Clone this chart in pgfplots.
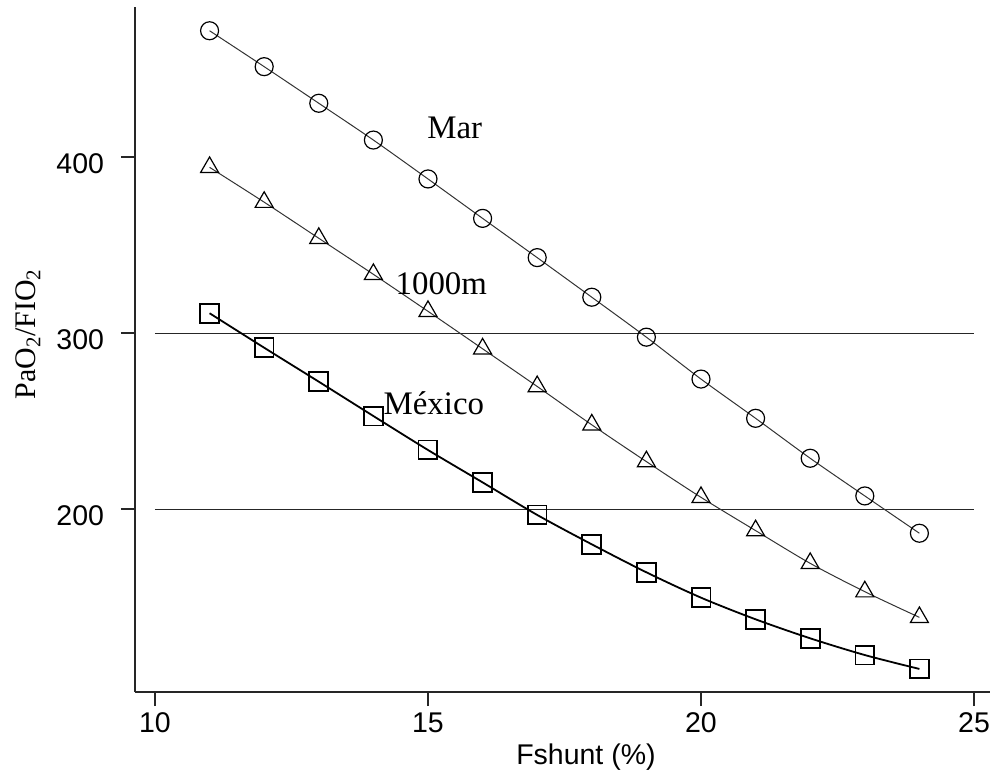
\documentclass[border=0pt]{standalone}
\usepackage{pgfplots}
\pgfplotsset{compat=1.18}
\usepackage{fontspec}
\setmainfont{Liberation Serif}
\newfontfamily\arial{Liberation Sans}
\begin{document}
\begin{tikzpicture}
\begin{axis}[
  scale only axis, width=427.5bp, height=342.5bp,
  xmin=9.634, xmax=25.293, ymin=96.2, ymax=485.4,
  axis x line=bottom, axis y line=left,
  axis line style={-, line width=0.9bp, black!85},
  xtick={10,15,20,25}, ytick={200,300,400},
  tick align=outside, major tick length=7bp,
  tick style={line width=0.9bp, black!85},
  /pgf/number format/assume math mode=true,
  ticklabel style={font=\arial\fontsize{14.3}{14.3}\selectfont},
  yticklabel style={xshift=-5bp, yshift=-3bp},
  xlabel={Fshunt (\%)},
  xlabel style={font=\arial\fontsize{14.3}{14.3}\selectfont, at={(axis description cs:0.5274,0)}, anchor=base, yshift=-36bp},
  ylabel={PaO\textsubscript{2}/FIO\textsubscript{2}},
  ylabel style={font=\fontsize{15}{15}\selectfont, at={(axis description cs:-0.1158,0.5226)}, anchor=base},
  clip=false,
]
% reference lines
\addplot[line width=0.8bp, black!85] coordinates {(10,300) (25,300)};
\addplot[line width=0.8bp, black!85] coordinates {(10,200) (25,200)};
% Mar
\addplot[smooth, line width=0.5bp, black!80, mark=o, mark size=4.5bp, mark options={line width=0.6bp, black}] coordinates {
(11,471.9) (12,451.5) (13,430.7) (14,409.8) (15,387.7) (16,365.3) (17,343.0) (18,320.5) (19,297.8) (20,274.0) (21,251.7) (22,229.0) (23,207.6) (24,186.4)};
% 1000m
\addplot[smooth, line width=0.5bp, black!80, mark=triangle, mark size=5.2bp, mark options={line width=0.6bp, black}] coordinates {
(11,394.3) (12,374.5) (13,354.0) (14,333.5) (15,312.5) (16,291.2) (17,269.8) (18,248.0) (19,227.1) (20,206.8) (21,187.9) (22,169.3) (23,153.2) (24,138.6)};
% Mexico
\addplot[smooth, line width=0.9bp, black, mark=square, mark size=4.7bp, mark options={line width=0.9bp, black}] coordinates {
(11,311.4) (12,291.8) (13,272.5) (14,253.0) (15,233.7) (16,215.3) (17,196.8) (18,180.1) (19,164.2) (20,149.8) (21,137.5) (22,126.7) (23,117.2) (24,109.3)};
\node[anchor=base west, font=\fontsize{16.5}{16.5}\selectfont, inner sep=0pt] at (axis cs:14.98,410.9) {Mar};
\node[anchor=base west, font=\fontsize{16.5}{16.5}\selectfont, inner sep=0pt] at (axis cs:14.40,322.3) {1000m};
\node[anchor=base west, font=\fontsize{16.5}{16.5}\selectfont, inner sep=0pt] at (axis cs:14.18,253.6) {México};
\end{axis}
\pgfresetboundingbox
\path[use as bounding box] (-67.5bp,-41bp) rectangle (427.5bp,346bp);
\end{tikzpicture}
\end{document}
